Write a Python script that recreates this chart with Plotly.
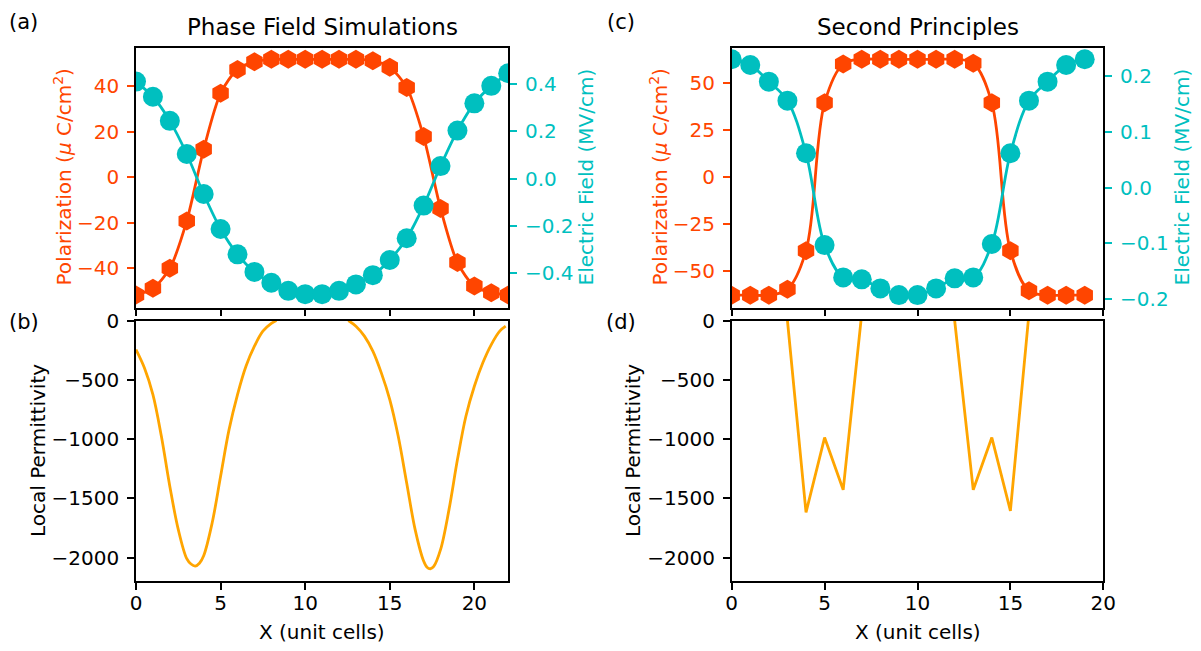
import plotly.graph_objects as go

# ---------------- data ----------------
x_a = list(range(23))
pol_a = [-51.7, -48.8, -40.0, -19.2, 12.2, 36.8, 47.3, 50.7, 51.7, 51.7, 51.7, 51.7,
         51.7, 51.7, 51.1, 48.2, 39.4, 17.8, -13.7, -37.5, -47.8, -50.7, -51.7]
ef_a = [0.41, 0.346, 0.244, 0.104, -0.065, -0.213, -0.32, -0.394, -0.44, -0.474, -0.488,
        -0.488, -0.474, -0.447, -0.408, -0.344, -0.252, -0.114, 0.053, 0.203, 0.318, 0.392, 0.445]

x_c = list(range(20))
pol_c = [-63.0, -63.0, -63.0, -59.9, -39.3, 39.6, 60.3, 62.8, 62.8, 62.8, 62.8, 62.8,
         62.8, 60.7, 39.6, -39.3, -60.7, -63.0, -63.0, -63.0]
ef_c = [0.230, 0.2197, 0.1898, 0.1558, 0.0615, -0.1029, -0.1608, -0.1643, -0.1805, -0.1925,
        -0.1925, -0.1805, -0.1625, -0.1608, -0.101, 0.0615, 0.1558, 0.1898, 0.2197, 0.230]

x_b = [0, 0.5, 1, 1.5, 2, 2.5, 3, 3.25, 3.5, 3.75, 4, 4.5, 5, 5.5, 6, 6.5, 7, 7.5, 8, 8.3,
       None,
       12.55, 13, 13.5, 14, 14.5, 15, 15.5, 16, 16.5, 17, 17.2, 17.4, 17.6, 18, 18.5, 19,
       19.5, 20, 20.5, 21, 21.5, 21.85]
perm_b = [-245, -400, -625, -977, -1400, -1765, -2010, -2055, -2072, -2048, -1985, -1709,
          -1315, -921, -625, -386, -217, -90, -25, 0,
          None,
          0, -48, -132, -259, -442, -667, -977, -1371, -1765, -2030, -2082, -2095, -2075,
          -1934, -1596, -1174, -808, -555, -357, -203, -90, -48]

x_d = list(range(3, 17))
perm_d = [0, -1620, -988, -1429, 60, None, None, None, None, 0, -1429, -988, -1606, 60]

ticks_x = [0, 5, 10, 15, 20]
ticks_pol_a = [-40, -20, 0, 20, 40]
ticks_ef_a = [-0.4, -0.2, 0.0, 0.2, 0.4]
ticks_pol_c = [-50, -25, 0, 25, 50]
ticks_ef_c = [-0.2, -0.1, 0.0, 0.1, 0.2]
ticks_perm = [-2000, -1500, -1000, -500, 0]

# ---------------- styling ----------------
W, H = 1201, 651
OFF = 8  # page body margin the figure is drawn after
RED = "#FF4500"
CYAN = "#00BFBF"
ORANGE = "#FFA500"
FONT = "DejaVu Sans"
FS = 20


def lab(v, fmt):
    s = fmt.format(v)
    return s.replace("-", "\u2212")


def px(p):
    return (p - OFF) / W


def py(p):
    return 1 - (p - OFF) / H


dom_xa = [px(136.0), px(508.2)]
dom_xc = [px(731.7), px(1103.3)]
dom_top = [py(307.5), py(47.5)]
dom_bot = [py(581.2), py(320.5)]

fig = go.Figure()

LW = 2.8
# Panel a
fig.add_trace(go.Scatter(x=x_a, y=pol_a, mode="lines+markers", xaxis="x", yaxis="y",
                         line=dict(color=RED, width=LW, shape="spline", smoothing=0.8),
                         marker=dict(symbol="hexagon", size=19, color=RED, line=dict(width=0))))
fig.add_trace(go.Scatter(x=x_a, y=ef_a, mode="lines+markers", xaxis="x", yaxis="y2",
                         line=dict(color=CYAN, width=LW, shape="spline", smoothing=0.8),
                         marker=dict(symbol="circle", size=20, color=CYAN, line=dict(width=0))))
# Panel b
fig.add_trace(go.Scatter(x=x_b, y=perm_b, mode="lines", xaxis="x2", yaxis="y3",
                         line=dict(color=ORANGE, width=LW, shape="spline", smoothing=1.0)))
# Panel c
fig.add_trace(go.Scatter(x=x_c, y=pol_c, mode="lines+markers", xaxis="x3", yaxis="y4",
                         line=dict(color=RED, width=LW, shape="spline", smoothing=1.0),
                         marker=dict(symbol="hexagon", size=19, color=RED, line=dict(width=0))))
fig.add_trace(go.Scatter(x=x_c, y=ef_c, mode="lines+markers", xaxis="x3", yaxis="y5",
                         line=dict(color=CYAN, width=LW, shape="spline", smoothing=1.0),
                         marker=dict(symbol="circle", size=20, color=CYAN, line=dict(width=0))))
# Panel d
fig.add_trace(go.Scatter(x=x_d, y=perm_d, mode="lines", xaxis="x4", yaxis="y6",
                         line=dict(color=ORANGE, width=LW)))

common = dict(showline=True, linecolor="black", linewidth=1.5, ticks="outside",
              ticklen=7, tickwidth=1.5, tickcolor="black", showgrid=False, zeroline=False,
              automargin=False,
              tickfont=dict(family=FONT, size=FS, color="black"), ticklabelstandoff=4)
xcommon = dict(common, ticklabelstandoff=-4)

fig.update_layout(
    template="none",
    width=W, height=H, margin=dict(l=0, r=0, t=0, b=0, pad=0, autoexpand=False),
    paper_bgcolor="white", plot_bgcolor="white", showlegend=False,
    font=dict(family=FONT, size=FS, color="black"),
    xaxis=dict(xcommon, domain=dom_xa, anchor="y", range=[0, 22], tickvals=ticks_x,
               showticklabels=False, mirror=True),
    yaxis=dict(common, domain=dom_top, anchor="x", range=[-57.2, 56.9],
               tickvals=ticks_pol_a, ticktext=[lab(v, "{:d}") for v in ticks_pol_a],
               tickcolor=RED, tickfont=dict(family=FONT, size=FS, color=RED)),
    yaxis2=dict(common, overlaying="y", side="right", anchor="x", range=[-0.5445, 0.554],
                tickvals=ticks_ef_a, ticktext=[lab(v, "{:.1f}") for v in ticks_ef_a],
                tickcolor=CYAN, tickfont=dict(family=FONT, size=FS, color=CYAN)),
    xaxis2=dict(xcommon, domain=dom_xa, anchor="y3", range=[0, 22], tickvals=ticks_x,
                ticktext=[str(v) for v in ticks_x], mirror=True),
    yaxis3=dict(common, domain=dom_bot, anchor="x2", range=[-2200, 0],
                tickvals=ticks_perm, ticktext=[lab(v, "{:d}") for v in ticks_perm], mirror=True),
    xaxis3=dict(xcommon, domain=dom_xc, anchor="y4", range=[0, 20], tickvals=ticks_x,
                showticklabels=False, mirror=True),
    yaxis4=dict(common, domain=dom_top, anchor="x3", range=[-69.6, 69.1],
                tickvals=ticks_pol_c, ticktext=[lab(v, "{:d}") for v in ticks_pol_c],
                tickcolor=RED, tickfont=dict(family=FONT, size=FS, color=RED)),
    yaxis5=dict(common, overlaying="y4", side="right", anchor="x3", range=[-0.2147, 0.251],
                tickvals=ticks_ef_c, ticktext=[lab(v, "{:.1f}") for v in ticks_ef_c],
                tickcolor=CYAN, tickfont=dict(family=FONT, size=FS, color=CYAN)),
    xaxis4=dict(xcommon, domain=dom_xc, anchor="y6", range=[0, 20], tickvals=ticks_x,
                ticktext=[str(v) for v in ticks_x], mirror=True),
    yaxis6=dict(common, domain=dom_bot, anchor="x4", range=[-2200, 0],
                tickvals=ticks_perm, ticktext=[lab(v, "{:d}") for v in ticks_perm], mirror=True),
)

ann = []


def add_text(text, x, y, size=FS, color="black", angle=0, xanchor="center"):
    ann.append(dict(text=text, x=px(x), y=py(y), xref="paper", yref="paper",
                    showarrow=False, textangle=angle, xanchor=xanchor, yanchor="middle",
                    font=dict(family=FONT, size=size, color=color)))


add_text("Phase Field Simulations", 322.1, 27, size=23)
add_text("Second Principles", 917.5, 27, size=23)
add_text("(a)", 23, 22, size=21)
add_text("(b)", 24, 322, size=21)
add_text("(c)", 621, 22, size=21)
add_text("(d)", 621, 322, size=21)
add_text("Polarization (<i>μ</i> C/cm<sup>2</sup>)", 63, 177.5, color=RED, angle=-90)
add_text("Electric Field (MV/cm)", 586, 177.5, color=CYAN, angle=-90)
add_text("Polarization (<i>μ</i> C/cm<sup>2</sup>)", 659, 177.5, color=RED, angle=-90)
add_text("Electric Field (MV/cm)", 1182, 177.5, color=CYAN, angle=-90)
add_text("Local Permittivity", 38, 451, angle=-90)
add_text("Local Permittivity", 633, 451, angle=-90)
add_text("X (unit cells)", 322.1, 632)
add_text("X (unit cells)", 917.5, 632)
fig.update_layout(annotations=ann)

fig.write_html("out.html")
